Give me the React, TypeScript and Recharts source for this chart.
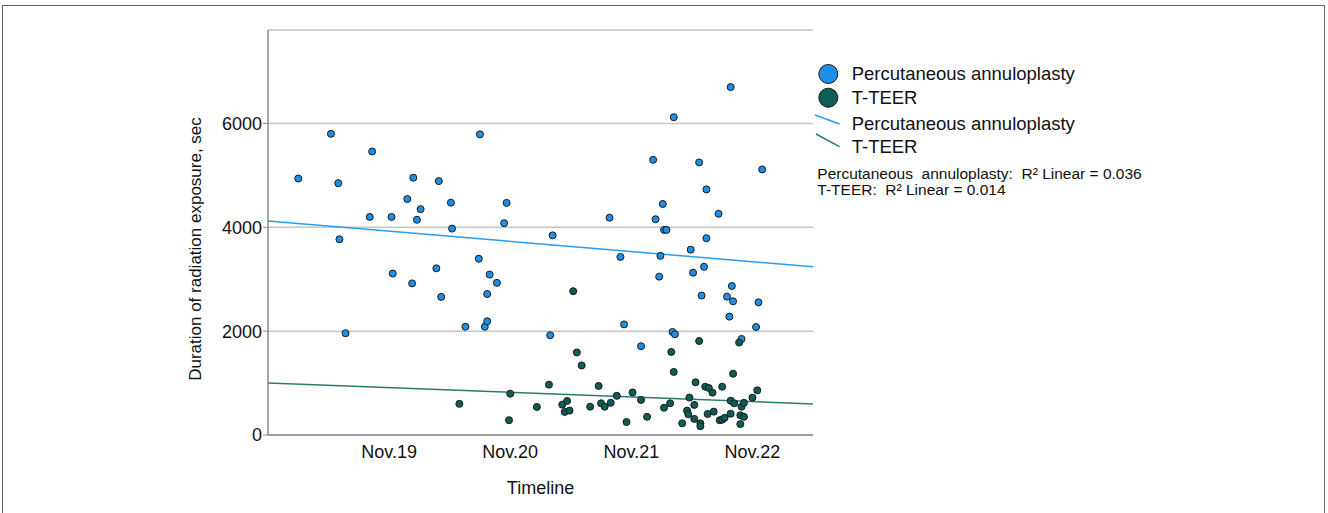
import React from "react";
import {
  ScatterChart,
  Scatter,
  XAxis,
  YAxis,
  CartesianGrid,
  ReferenceLine,
} from "recharts";

// Timeline positions (year index: 19 = Nov.19, 20 = Nov.20, ...)
const xTickValues = [19, 20, 21, 22];
const xTickLabels = ["Nov.19", "Nov.20", "Nov.21", "Nov.22"];
const yTickValues = [0, 2000, 4000, 6000];

const paTime = [
  18.25, 18.52, 18.58, 18.59, 18.64, 18.86, 18.84, 19.02, 19.03, 19.15, 19.2,
  19.19, 19.26, 19.23, 19.39, 19.41, 19.43, 19.51, 19.52, 19.63, 19.74, 19.75,
  19.79, 19.81, 19.81, 19.83, 19.89, 19.95, 19.97, 20.33, 20.35, 20.82, 20.91,
  20.94, 21.08, 21.18, 21.2, 21.23, 21.24, 21.26, 21.27, 21.29, 21.34, 21.36,
  21.35, 21.49, 21.51, 21.56, 21.58, 21.6, 21.62, 21.62, 21.72, 21.79, 21.81,
  21.82, 21.83, 21.84, 21.91, 22.03, 22.05, 22.08,
];
const paDuration = [
  4940, 5800, 4850, 3770, 1960, 5460, 4200, 4200, 3110, 4545, 4955, 2920, 4350,
  4145, 3210, 4890, 2660, 4475, 3975, 2085, 3395, 5790, 2085, 2190, 2715, 3090,
  2930, 4080, 4470, 1920, 3845, 4185, 3430, 2130, 1710, 5300, 4155, 3050, 3450,
  4450, 3950, 3950, 1985, 1940, 6120, 3570, 3125, 5250, 2685, 3240, 4730, 3790,
  4260, 2665, 2280, 6700, 2870, 2575, 1850, 2080, 2555, 5115,
];

const teerTime = [
  19.58, 20.0, 19.99, 20.22, 20.32, 20.43, 20.47, 20.45, 20.49, 20.52, 20.55,
  20.59, 20.66, 20.73, 20.75, 20.78, 20.83, 20.88, 20.96, 21.01, 21.08, 21.13,
  21.27, 21.32, 21.33, 21.35, 21.42, 21.46, 21.47, 21.48, 21.52, 21.52, 21.53,
  21.56, 21.57, 21.57, 21.61, 21.64, 21.63, 21.67, 21.68, 21.73, 21.75, 21.75,
  21.77, 21.82, 21.82, 21.84, 21.85, 21.89, 21.9, 21.9, 21.91, 21.93, 21.93,
  22.0, 22.04,
];
const teerDuration = [
  600, 795, 285, 540, 970, 585, 655, 445, 470, 2770, 1590, 1340, 545, 945, 610,
  545, 620, 755, 250, 820, 675, 350, 525, 610, 1600, 1215, 225, 470, 400, 720,
  580, 310, 1015, 1810, 225, 170, 930, 905, 405, 815, 450, 285, 295, 930, 330,
  660, 410, 1180, 610, 1780, 380, 210, 545, 350, 620, 720, 860,
];

// Linear fit lines (endpoints at the x-domain edges)
const fitTime = [18, 22.5];
const paFit = [4120, 3240];
const teerFit = [1000, 597];

const paData = paTime.map((t, i) => ({ t, d: paDuration[i] }));
const teerData = teerTime.map((t, i) => ({ t, d: teerDuration[i] }));

const BLUE = "#1e8fe6";
const GREEN = "#0e5c56";
const BLUE_LINE = "#2a9cf0";
const GREEN_LINE = "#2b7b72";
const FONT = "'Liberation Sans', Arial, sans-serif";

const dot = (fill: string) => (props: any) => (
  <circle
    cx={props.cx}
    cy={props.cy}
    r={3.5}
    fill={fill}
    stroke="#1a1a1a"
    strokeWidth={1}
  />
);

export default function App() {
  return (
    <div
      style={{
        position: "absolute",
        left: 0,
        top: 0,
        width: 1328,
        height: 513,
        background: "#fff",
        overflow: "hidden",
        fontFamily: FONT,
      }}
    >
      <div
        style={{
          position: "absolute",
          left: 2,
          top: 5,
          width: 1323,
          height: 560,
          border: "1px solid #666",
          boxSizing: "border-box",
        }}
      />
      <ScatterChart
        width={1328}
        height={513}
        margin={{ top: 30, right: 515, bottom: 48, left: 208 }}
        style={{ position: "absolute", left: 0, top: 0 }}
      >
        <CartesianGrid
          vertical={false}
          stroke="#c6c6c6"
          strokeWidth={1.5}
        />
        <XAxis
          type="number"
          dataKey="t"
          domain={[18, 22.5]}
          ticks={xTickValues}
          tickFormatter={(v: number) => xTickLabels[xTickValues.indexOf(v)]}
          height={30}
          tickLine={false}
          tickSize={0}
          tickMargin={10}
          axisLine={{ stroke: "#8a8a8a", strokeWidth: 1.5 }}
          tick={{ fill: "#111", fontSize: 18, fontFamily: FONT }}
          allowDataOverflow
        />
        <YAxis
          type="number"
          dataKey="d"
          domain={[0, 7800]}
          ticks={yTickValues}
          width={60}
          tickSize={5}
          tickMargin={1}
          tickLine={{ stroke: "#8a8a8a" }}
          axisLine={{ stroke: "#8a8a8a", strokeWidth: 1.5 }}
          tick={{ fill: "#111", fontSize: 18, fontFamily: FONT }}
          allowDataOverflow
        />
        <ReferenceLine
          segment={[
            { x: fitTime[0], y: paFit[0] },
            { x: fitTime[1], y: paFit[1] },
          ]}
          stroke={BLUE_LINE}
          strokeWidth={1.5}
        />
        <ReferenceLine
          segment={[
            { x: fitTime[0], y: teerFit[0] },
            { x: fitTime[1], y: teerFit[1] },
          ]}
          stroke={GREEN_LINE}
          strokeWidth={1.5}
        />
        <Scatter
          name="Percutaneous annuloplasty"
          data={paData}
          shape={dot(BLUE)}
          isAnimationActive={false}
        />
        <Scatter
          name="T-TEER"
          data={teerData}
          shape={dot(GREEN)}
          isAnimationActive={false}
        />
      </ScatterChart>
      <svg
        width={1328}
        height={513}
        style={{ position: "absolute", left: 0, top: 0, pointerEvents: "none" }}
        fontFamily={FONT}
      >
        <text
          x={200.5}
          y={249}
          transform="rotate(-90 200.5 249)"
          textAnchor="middle"
          fontSize={17}
          fill="#111"
        >
          Duration of radiation exposure, sec
        </text>
        <text x={540.5} y={494} textAnchor="middle" fontSize={18} fill="#111">
          Timeline
        </text>
        <circle cx={828.3} cy={74} r={9.5} fill={BLUE} stroke="#1a1a1a" strokeWidth={1} />
        <text x={851.7} y={80} fontSize={18.5} fill="#111">
          Percutaneous annuloplasty
        </text>
        <circle cx={828.3} cy={97.7} r={9.5} fill={GREEN} stroke="#1a1a1a" strokeWidth={1} />
        <text x={851.7} y={104.3} fontSize={18.5} fill="#111">
          T-TEER
        </text>
        <line x1={815} y1={115} x2={839.5} y2={124} stroke={BLUE_LINE} strokeWidth={1.5} />
        <text x={851.7} y={130} fontSize={18.5} fill="#111">
          Percutaneous annuloplasty
        </text>
        <line x1={816} y1={134} x2={839.5} y2={146.7} stroke={GREEN_LINE} strokeWidth={1.5} />
        <text x={851.7} y={153.3} fontSize={18.5} fill="#111">
          T-TEER
        </text>
        <text x={817.3} y={179.3} fontSize={15.5} fill="#111" xmlSpace="preserve">
          Percutaneous  annuloplasty:  R² Linear = 0.036
        </text>
        <text x={817.3} y={195} fontSize={15.5} fill="#111" xmlSpace="preserve">
          T-TEER:  R² Linear = 0.014
        </text>
      </svg>
    </div>
  );
}
